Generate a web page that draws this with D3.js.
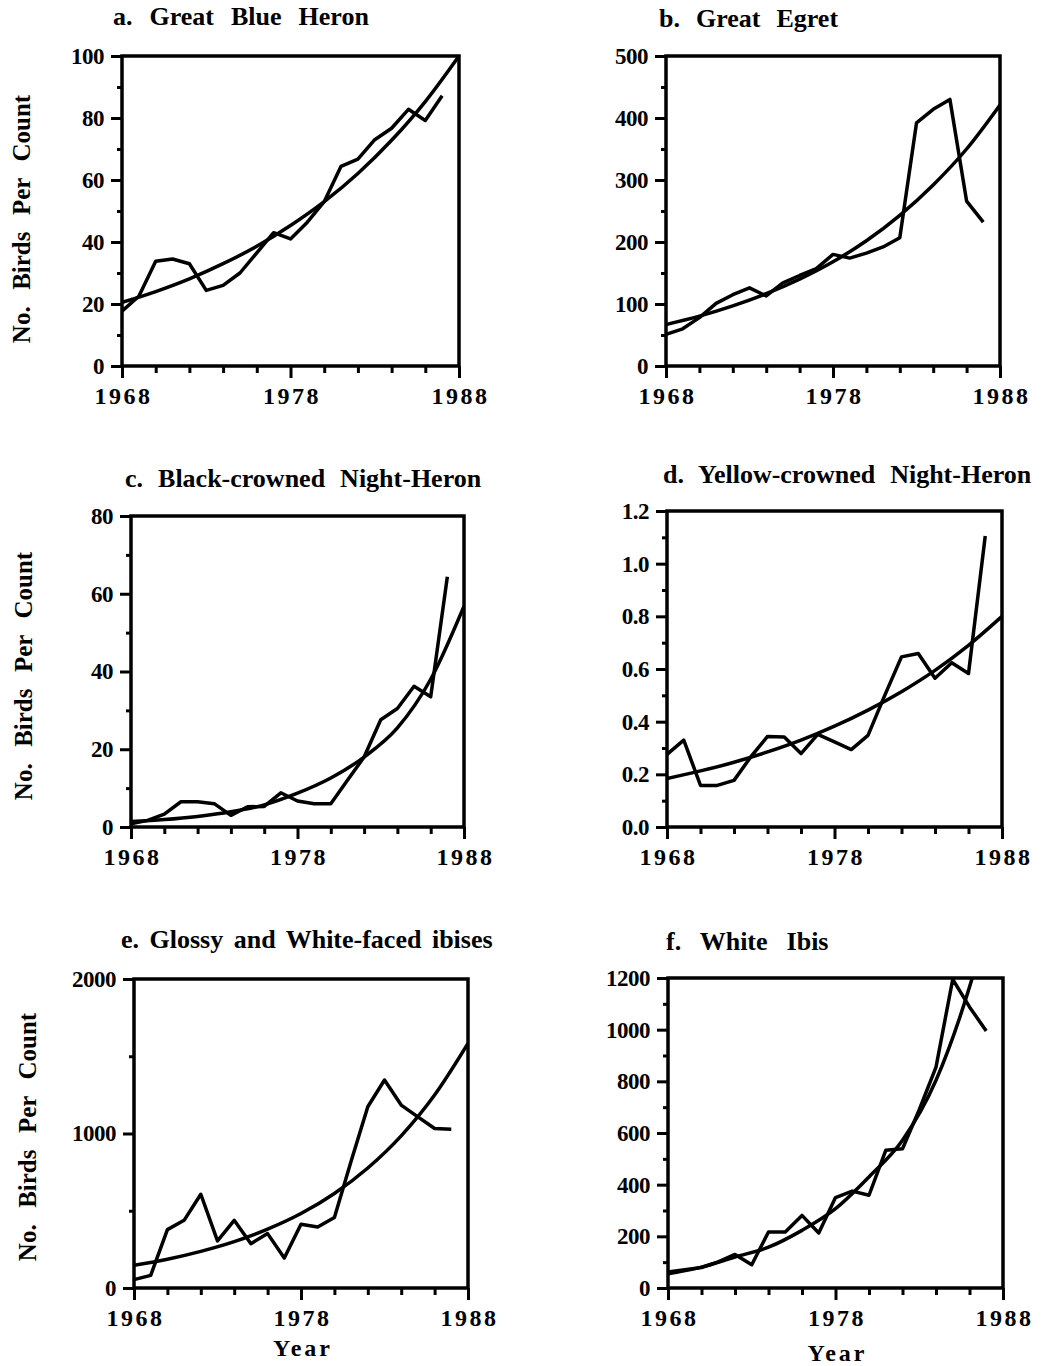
<!DOCTYPE html>
<html>
<head>
<meta charset="utf-8">
<script src="https://cdn.jsdelivr.net/npm/d3@7"></script>
<style>
  body { margin: 0; background: #fff; }
  svg text { font-family: "Liberation Serif", "Times New Roman", serif; font-weight: bold; fill: #000; }
</style>
</head>
<body>
<svg id="chart" width="1043" height="1366"></svg>
<script>
const years = [1968, 1969, 1970, 1971, 1972, 1973, 1974, 1975, 1976, 1977,
  1978, 1979, 1980, 1981, 1982, 1983, 1984, 1985, 1986, 1987];
const fitYears = [1968, 1970, 1972, 1974, 1976, 1978, 1980, 1982, 1984, 1986, 1988];
const xTickLabels = [1968, 1978, 1988];

// a. Great Blue Heron
const blueHeron = [17.7, 22.5, 33.8, 34.5, 33, 24.4, 26, 30, 36.5, 43,
  41, 46.4, 53, 64.4, 66.7, 73, 76.7, 82.8, 79.2, 87.2];
const blueHeronFit = [20.5, 24, 28.1, 33, 38.6, 45.3, 53, 62.1, 72.8, 85.3, 100];

// b. Great Egret
const greatEgret = [51, 60, 78, 101, 115, 126, 113, 134, 146, 157,
  180, 174, 182, 192, 207, 392, 414, 430, 266, 232];
const greatEgretFit = [67, 80.5, 97, 116.6, 140, 168, 202, 243, 292, 350, 421];

// c. Black-crowned Night-Heron
const blackCrowned = [0.8, 1.7, 3.3, 6.5, 6.5, 6, 3, 5.2, 5.3, 8.8,
  6.7, 6, 6, 12, 18, 27.6, 30.5, 36.2, 33.5, 64.4];
const blackCrownedFit = [1.4, 1.9, 2.7, 3.9, 5.7, 8.7, 12.6, 18, 25.5, 38, 56.8];

// d. Yellow-crowned Night-Heron
const yellowCrowned = [0.276, 0.33, 0.158, 0.158, 0.177, 0.266, 0.344, 0.342, 0.279, 0.352,
  0.323, 0.294, 0.348, 0.5, 0.646, 0.659, 0.565, 0.624, 0.583, 1.105];
const yellowCrownedFit = [0.184, 0.213, 0.246, 0.285, 0.33, 0.383, 0.444, 0.514, 0.595, 0.69, 0.8];

// e. Glossy and White-faced ibises
const darkIbises = [54, 82, 378, 438, 607, 305, 438, 287, 352, 194,
  412, 395, 456, 820, 1173, 1346, 1184, 1108, 1032, 1028];
const darkIbisesFit = [147, 186, 237, 300, 381, 482, 612, 777, 985, 1249, 1583];

// f. White Ibis
const whiteIbis = [62, 71, 79, 101, 130, 90, 217, 217, 281, 213,
  350, 375, 359, 533, 539, 690, 855, 1195, 1088, 995];
const whiteIbisFit = [55, 81, 120, 158, 223, 307, 430, 572, 804, 1165, 1650];

const panels = [
  { id: "a", title: "a.  Great  Blue  Heron", ws: 2, counts: blueHeron, fit: blueHeronFit,
    yMax: 100, yTicks: [0, 20, 40, 60, 80, 100], yMinor: 10, fmt: d3.format("d"),
    box: [122, 459, 56, 366], titleAt: [113, 25], yTitle: [21, 219] },
  { id: "b", title: "b.  Great  Egret", ws: 1.5, counts: greatEgret, fit: greatEgretFit,
    yMax: 500, yTicks: [0, 100, 200, 300, 400, 500], yMinor: 50, fmt: d3.format("d"),
    box: [666, 1000, 56, 366], titleAt: [659, 27] },
  { id: "c", title: "c.  Black-crowned  Night-Heron", ws: 1, counts: blackCrowned, fit: blackCrownedFit,
    yMax: 80, yTicks: [0, 20, 40, 60, 80], yMinor: 10, fmt: d3.format("d"),
    box: [131, 464, 516, 827], titleAt: [125, 487], yTitle: [23, 676] },
  { id: "d", title: "d.  Yellow-crowned  Night-Heron", ws: 1, counts: yellowCrowned, fit: yellowCrownedFit,
    yMax: 1.2, yTicks: [0, 0.2, 0.4, 0.6, 0.8, 1.0, 1.2], yMinor: 0.1, fmt: d3.format(".1f"),
    box: [667, 1002, 511, 827], titleAt: [663, 483] },
  { id: "e", title: "e. Glossy and White-faced ibises", ws: 4, counts: darkIbises, fit: darkIbisesFit,
    yMax: 2000, yTicks: [0, 1000, 2000], yMinor: 500, fmt: d3.format("d"),
    box: [134, 468, 979, 1288], titleAt: [121, 948], yTitle: [27, 1137], xTitle: 1356 },
  { id: "f", title: "f.  White  Ibis", ws: 3, counts: whiteIbis, fit: whiteIbisFit,
    yMax: 1200, yTicks: [0, 200, 400, 600, 800, 1000, 1200], yMinor: 100, fmt: d3.format("d"),
    box: [668, 1003, 978, 1288], titleAt: [666, 950], xTitle: 1361 }
];

const svg = d3.select("#chart");
const stroke = 3.5;

function drawPanel(p) {
  const [left, right, top, bottom] = p.box;
  const x = d3.scaleLinear().domain([1968, 1988]).range([left, right]);
  const y = d3.scaleLinear().domain([0, p.yMax]).range([bottom, top]);
  const g = svg.append("g").attr("class", "panel-" + p.id);

  // clip so the fitted curve stops at the frame
  g.append("clipPath").attr("id", "clip-" + p.id)
    .append("rect")
    .attr("x", left).attr("y", top)
    .attr("width", right - left).attr("height", bottom - top);

  // x axis: short ticks every 2 years, long ticks at the labelled years
  const minorX = d3.range(1968, 1989, 2).filter(v => !xTickLabels.includes(v));
  g.append("g").attr("transform", `translate(0,${bottom})`)
    .call(d3.axisBottom(x).tickValues(minorX).tickSize(7).tickFormat(""));
  g.append("g").attr("class", "xlab").attr("transform", `translate(0,${bottom})`)
    .call(d3.axisBottom(x).tickValues(xTickLabels).tickSize(12).tickPadding(9).tickFormat(d3.format("d")));

  // y axis
  const minorY = d3.range(0, p.yMax + p.yMinor / 2, p.yMinor)
    .filter(v => !p.yTicks.some(t => Math.abs(t - v) < p.yMinor / 4));
  g.append("g").attr("transform", `translate(${left},0)`)
    .call(d3.axisLeft(y).tickValues(minorY).tickSize(5).tickFormat(""));
  g.append("g").attr("class", "ylab").attr("transform", `translate(${left},0)`)
    .call(d3.axisLeft(y).tickValues(p.yTicks).tickSize(11).tickPadding(7).tickFormat(p.fmt));

  g.selectAll(".domain").remove();
  g.selectAll(".tick line").attr("stroke", "#000").attr("stroke-width", 3);
  g.selectAll(".xlab text").style("font-size", "24px").style("letter-spacing", "2.5px")
    .attr("dx", "1px");
  g.selectAll(".ylab text").style("font-size", "23px").style("letter-spacing", "-0.5px");

  // frame
  g.append("rect")
    .attr("x", left).attr("y", top)
    .attr("width", right - left).attr("height", bottom - top)
    .attr("fill", "none").attr("stroke", "#000").attr("stroke-width", stroke);

  // fitted curve
  const fitLine = d3.line()
    .x((d, i) => x(fitYears[i]))
    .y(d => y(d))
    .curve(d3.curveMonotoneX);
  g.append("path")
    .attr("clip-path", `url(#clip-${p.id})`)
    .attr("d", fitLine(p.fit))
    .attr("fill", "none").attr("stroke", "#000")
    .attr("stroke-width", stroke).attr("stroke-linejoin", "round");

  // yearly counts
  const countLine = d3.line()
    .x((d, i) => x(years[i]))
    .y(d => y(d));
  g.append("path")
    .attr("d", countLine(p.counts))
    .attr("fill", "none").attr("stroke", "#000")
    .attr("stroke-width", stroke).attr("stroke-linejoin", "round");

  // titles
  g.append("text")
    .attr("x", p.titleAt[0]).attr("y", p.titleAt[1])
    .style("font-size", "26px")
    .style("word-spacing", p.ws + "px")
    .style("white-space", "pre")
    .text(p.title);

  if (p.yTitle) {
    g.append("text")
      .attr("transform", `translate(${p.yTitle[0]},${p.yTitle[1]}) rotate(-90)`)
      .attr("text-anchor", "middle")
      .attr("dominant-baseline", "central")
      .style("font-size", "25px")
      .style("word-spacing", "2px")
      .style("white-space", "pre")
      .text("No.  Birds  Per  Count");
  }
  if (p.xTitle) {
    g.append("text")
      .attr("x", (left + right) / 2 + 2).attr("y", p.xTitle)
      .attr("text-anchor", "middle")
      .style("font-size", "24px")
      .style("letter-spacing", "3px")
      .text("Year");
  }
}

panels.forEach(drawPanel);
</script>
</body>
</html>
